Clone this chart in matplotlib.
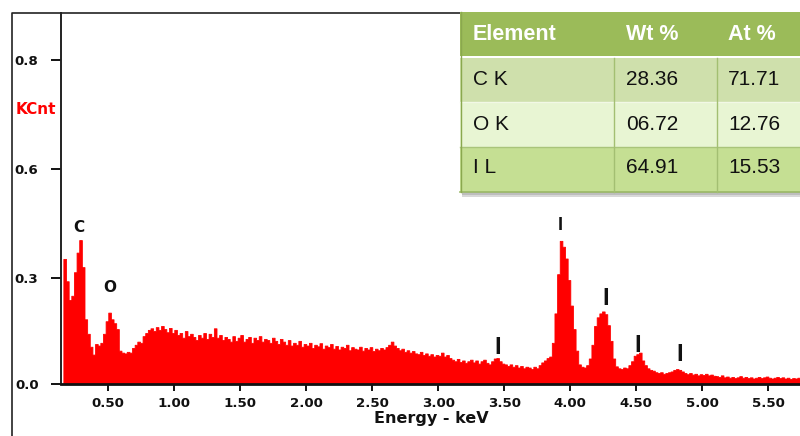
import numpy as np
import matplotlib
matplotlib.use('Agg')
import matplotlib.pyplot as plt
from matplotlib.patches import Rectangle
from matplotlib.lines import Line2D

# ---------------- data ----------------
E0 = 0.16      # keV, first channel start
BIN = 0.02     # keV per channel
kcnt = [
    0.319, 0.262, 0.214, 0.225, 0.285, 0.335, 0.367, 0.298, 0.165, 0.128,
    0.095, 0.075, 0.102, 0.098, 0.105, 0.128, 0.160, 0.182, 0.165, 0.155,
    0.140, 0.085, 0.080, 0.078, 0.082, 0.080, 0.092, 0.100, 0.108, 0.105,
    0.122, 0.130, 0.138, 0.142, 0.135, 0.145, 0.138, 0.148, 0.140, 0.132,
    0.143, 0.130, 0.138, 0.125, 0.130, 0.118, 0.135, 0.122, 0.128, 0.120,
    0.112, 0.125, 0.118, 0.130, 0.115, 0.128, 0.120, 0.142, 0.118, 0.125,
    0.112, 0.120, 0.115, 0.108, 0.122, 0.110, 0.118, 0.125, 0.108, 0.115,
    0.120, 0.105, 0.118, 0.112, 0.122, 0.108, 0.115, 0.112, 0.105, 0.118,
    0.110, 0.102, 0.115, 0.108, 0.100, 0.112, 0.098, 0.105, 0.100, 0.110,
    0.095, 0.102, 0.098, 0.105, 0.092, 0.100, 0.096, 0.104, 0.090, 0.098,
    0.094, 0.102, 0.090, 0.097, 0.088, 0.095, 0.092, 0.100, 0.086, 0.094,
    0.090, 0.088, 0.095, 0.085, 0.092, 0.088, 0.094, 0.084, 0.090, 0.086,
    0.092, 0.088, 0.094, 0.100, 0.108, 0.098, 0.092, 0.086, 0.090, 0.082,
    0.086, 0.080, 0.084, 0.078, 0.076, 0.082, 0.074, 0.078, 0.072, 0.076,
    0.070, 0.074, 0.072, 0.080, 0.070, 0.074, 0.066, 0.062, 0.058, 0.064,
    0.056, 0.060, 0.054, 0.058, 0.062, 0.055, 0.060, 0.052, 0.058, 0.062,
    0.054, 0.050, 0.058, 0.065, 0.066, 0.058, 0.052, 0.050, 0.046, 0.050,
    0.044, 0.048, 0.042, 0.046, 0.040, 0.044, 0.042, 0.038, 0.044, 0.040,
    0.048, 0.055, 0.060, 0.066, 0.070, 0.105, 0.180, 0.280, 0.365, 0.350,
    0.320, 0.265, 0.200, 0.140, 0.085, 0.050, 0.044, 0.042, 0.048, 0.065,
    0.100, 0.148, 0.170, 0.180, 0.185, 0.178, 0.150, 0.110, 0.065, 0.045,
    0.040, 0.038, 0.042, 0.040, 0.048, 0.058, 0.072, 0.076, 0.080, 0.060,
    0.048, 0.040, 0.036, 0.034, 0.030, 0.028, 0.030, 0.026, 0.028, 0.030,
    0.032, 0.036, 0.038, 0.036, 0.032, 0.028, 0.025, 0.028, 0.024, 0.026,
    0.022, 0.025, 0.023, 0.026, 0.022, 0.024, 0.021, 0.020, 0.018, 0.022,
    0.017, 0.019, 0.016, 0.018, 0.015, 0.017, 0.020, 0.016, 0.018, 0.015,
    0.017, 0.014, 0.016, 0.018, 0.015, 0.017, 0.019, 0.016, 0.014, 0.016,
    0.018, 0.015, 0.017, 0.014, 0.016, 0.013, 0.015, 0.014, 0.016,
]

x_ticks = [0.5, 1.0, 1.5, 2.0, 2.5, 3.0, 3.5, 4.0, 4.5, 5.0, 5.5]
x_tick_labels = ['0.50', '1.00', '1.50', '2.00', '2.50', '3.00', '3.50',
                 '4.00', '4.50', '5.00', '5.50']
y_ticks = [0.0, 0.270, 0.548, 0.826]
y_tick_labels = ['0.0', '0.3', '0.6', '0.8']

peak_labels = ['C', 'O', 'I', 'I', 'I', 'I', 'I']
peak_x = [0.280, 0.515, 3.924, 4.265, 3.447, 4.508, 4.826]
peak_y = [0.398, 0.247, 0.403, 0.219, 0.094, 0.099, 0.074]

table_header = ['Element', 'Wt %', 'At %']
elements = ['C K', 'O K', 'I L']
wt_pct = ['28.36', '06.72', '64.91']
at_pct = ['71.71', '12.76', '15.53']

# ---------------- figure ----------------
W, H = 800, 436
fig = plt.figure(figsize=(8, 4.36), dpi=100)
fig.patch.set_facecolor('white')


def fx(x):
    return x / W


def fy(y):
    return 1 - y / H


ax = fig.add_axes([fx(61), fy(384), fx(800) - fx(61), fy(13) - fy(384)])
edges = E0 + BIN * np.arange(len(kcnt) + 1)
heights = np.append(np.asarray(kcnt), kcnt[-1])
ax.fill_between(edges, 0, heights, step='post', facecolor='#FF0000',
                edgecolor='#FF0000', linewidth=0.6, zorder=2)
ax.set_xlim(0.142, 5.74)
ax.set_ylim(0, 0.946)

for s in ['top', 'right']:
    ax.spines[s].set_visible(False)
ax.spines['left'].set_linewidth(1.4)
ax.spines['left'].set_color('#222222')
ax.spines['bottom'].set_linewidth(2.0)
ax.spines['bottom'].set_color('#111111')
ax.spines['left'].set_zorder(3)
ax.spines['bottom'].set_zorder(3)

ax.set_xticks(x_ticks)
ax.set_xticklabels(x_tick_labels)
ax.set_yticks(y_ticks)
ax.set_yticklabels(y_tick_labels)
ax.tick_params(axis='x', direction='out', length=5, width=1.4, pad=4,
               labelsize=9.6, colors='#111111')
ax.tick_params(axis='y', direction='out', length=7.2, width=1.4, pad=9,
               labelsize=9.6, colors='#111111')
for lab in ax.get_xticklabels() + ax.get_yticklabels():
    lab.set_fontweight('bold')
    lab.set_family('DejaVu Sans')

# peak labels
for i, (t, xv, yv) in enumerate(zip(peak_labels, peak_x, peak_y)):
    if t == 'I':
        size = 13 if i == 2 else 17
        ax.text(xv, yv, t, ha='center', va='center', fontsize=size,
                fontweight='bold', family='Liberation Sans', color='#111111',
                zorder=4)
    else:
        ax.text(xv, yv, t, ha='center', va='center', fontsize=11,
                fontweight='bold', family='DejaVu Sans', color='#111111',
                zorder=4)

# KCnt label and x label
fig.text(fx(16), fy(110), 'KCnt', color='#FF0000', fontsize=11,
         fontweight='bold', family='DejaVu Sans', ha='left', va='center')
fig.text(fx(431), fy(423), 'Energy - keV', color='#111111', fontsize=11.5,
         fontweight='bold', family='DejaVu Sans', ha='center', va='baseline')

# outer frame
fig.add_artist(Line2D([fx(12), fx(12), fx(460)], [fy(436), fy(13), fy(13)],
                      transform=fig.transFigure, color='#222222', lw=1.2,
                      zorder=2))


def rect(x0, y0, x1, y1, color, z=5, **kw):
    r = Rectangle((fx(x0), fy(y1)), fx(x1) - fx(x0), fy(y0) - fy(y1),
                  transform=fig.transFigure, facecolor=color,
                  edgecolor='none', zorder=z, **kw)
    fig.add_artist(r)


def hline(x0, x1, y, color, lw=1.0, z=6):
    fig.add_artist(Line2D([fx(x0), fx(x1)], [fy(y), fy(y)],
                          transform=fig.transFigure, color=color, lw=lw,
                          zorder=z))


def vline(x, y0, y1, color, lw=1.0, z=6):
    fig.add_artist(Line2D([fx(x), fx(x)], [fy(y0), fy(y1)],
                          transform=fig.transFigure, color=color, lw=lw,
                          zorder=z))


# table shadow
rect(462, 192, 800, 197, '#d8d8d8', z=4)
rect(462, 192, 800, 195, '#bdbdbd', z=4)
# header
rect(460, 12, 800, 56, '#9BBB59')
# white separator
rect(460, 56, 800, 58, '#FFFFFF')
row_colors = ['#CFE0AC', '#E8F5D3', '#C5DF93']
row_bounds = [(58, 102), (103, 147), (148, 192)]
for c, (a, b) in zip(row_colors, row_bounds):
    rect(460, a, 800, b, c)
hline(460, 800, 102.5, '#F2F8E6', lw=1.0)
hline(460, 800, 147.5, '#A9C47A', lw=1.0)
hline(460, 800, 192, '#9AB866', lw=1.2)
vline(460.5, 12, 192, '#8AA84E', lw=1.0)
for xc in [614, 717]:
    vline(xc, 58, 192, '#A3BF72', lw=1.0)

col_x = [473, 626, 728]
for t, xc in zip(table_header, col_x):
    fig.text(fx(xc), fy(40), t, color='white', fontsize=15.5,
             fontweight='bold', family='Liberation Sans', ha='left',
             va='baseline', zorder=7)
row_base = [85, 130, 173]
for j in range(3):
    for t, xc in zip([elements[j], wt_pct[j], at_pct[j]], col_x):
        fig.text(fx(xc), fy(row_base[j]), t, color='#111111', fontsize=15,
                 family='Liberation Sans', ha='left', va='baseline', zorder=7)

fig.savefig('out.png', dpi=100)
